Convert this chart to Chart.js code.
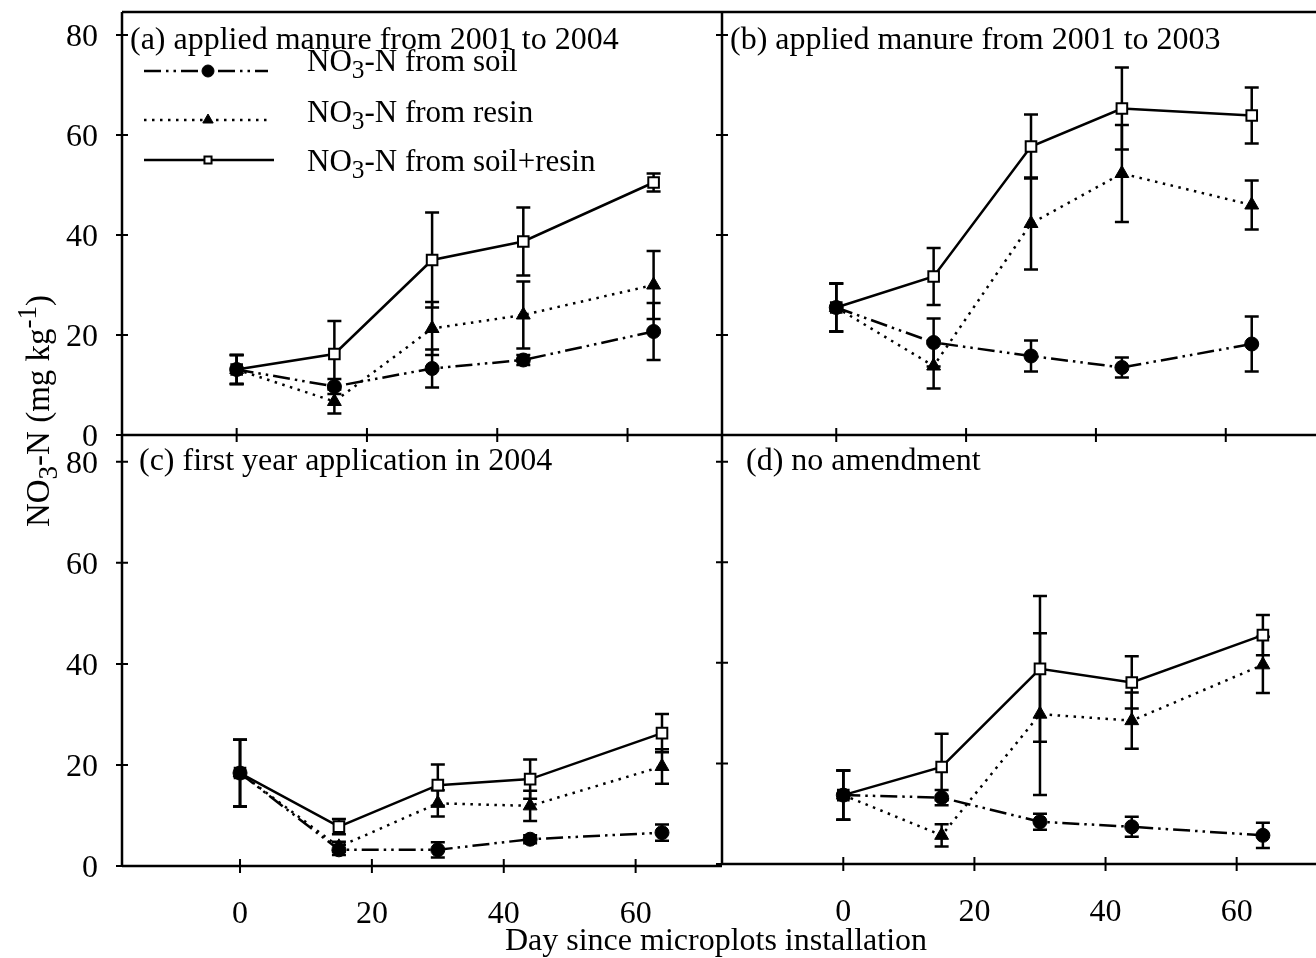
<!DOCTYPE html>
<html>
<head>
<meta charset="utf-8">
<script src="https://cdn.jsdelivr.net/npm/chart.js@4.4.1/dist/chart.umd.min.js"></script>
<style>
    body { margin: 0; background: #fff; }
    #wrap { position: relative; width: 1316px; height: 958px; overflow: hidden; background: #fff; }
    #wrap canvas { position: absolute; left: 0; top: 0; }
</style>
</head>
<body>
<div id="wrap">
    <canvas id="chartA" width="1316" height="958"></canvas>
    <canvas id="chartB" width="1316" height="958"></canvas>
    <canvas id="chartC" width="1316" height="958"></canvas>
    <canvas id="chartD" width="1316" height="958"></canvas>
</div>
<script>
// ---- data ----
const days = [0, 15, 30, 44, 64]
const xTickValues = [0, 20, 40, 60]
const yTickValues = [0, 20, 40, 60, 80]

// (a) applied manure from 2001 to 2004
const soilA = [13.1, 9.7, 13.3, 15.0, 20.7]
const soilErrA = [2.9, 1.5, 3.8, 1.0, 5.7]
const resinA = [13.1, 6.7, 21.3, 24.0, 30.0]
const resinErrA = [2.9, 2.4, 5.3, 6.7, 6.8]
const totalA = [13.1, 16.2, 35.0, 38.7, 50.5]
const totalErrA = [2.9, 6.6, 9.5, 6.8, 1.8]

// (b) applied manure from 2001 to 2003
const soilB = [25.5, 18.5, 15.8, 13.5, 18.2]
const soilErrB = [4.8, 4.8, 3.1, 2.0, 5.5]
const resinB = [25.5, 13.8, 42.3, 52.3, 46.0]
const resinErrB = [4.8, 4.5, 9.2, 9.7, 4.9]
const totalB = [25.5, 31.7, 57.7, 65.3, 63.9]
const totalErrB = [4.8, 5.7, 6.4, 8.2, 5.6]

// (c) first year application in 2004
const soilC = [18.4, 3.2, 3.2, 5.3, 6.6]
const soilErrC = [6.6, 1.0, 1.5, 0.8, 1.6]
const resinC = [18.4, 3.8, 12.4, 11.9, 19.7]
const resinErrC = [6.6, 1.0, 2.6, 3.0, 3.4]
const totalC = [18.4, 7.8, 16.0, 17.2, 26.3]
const totalErrC = [6.6, 1.5, 4.1, 3.9, 3.8]

// (d) no amendment
const soilD = [13.7, 13.2, 8.4, 7.4, 5.7]
const soilErrD = [4.9, 1.5, 1.6, 2.0, 2.5]
const resinD = [13.7, 5.7, 29.8, 28.5, 39.6]
const resinErrD = [4.9, 2.2, 16.1, 5.6, 5.6]
const totalD = [13.7, 19.3, 38.8, 36.1, 45.5]
const totalErrD = [4.9, 6.6, 14.5, 5.2, 4.0]

const W = 1316
const H = 958
const FONT = "'Liberation Serif', 'Times New Roman', serif"
const FONT_SIZE = 32
const LEGEND_SIZE = 31
const YTITLE_SIZE = 33
const INK = '#000'

Chart.defaults.font.family = FONT
Chart.defaults.color = INK

// draws text with sub / sup parts, returns end x
function drawRich(ctx, parts, x, y, size) {
    let cx = x
    parts.forEach(([text, kind]) => {
        const s = kind === 'n' ? size : size * 0.82
        const dy = kind === 'sub' ? size * 0.24 : kind === 'sup' ? -size * 0.4 : 0
        ctx.font = `${s}px ${FONT}`
        ctx.fillText(text, cx, y + dy)
        cx += ctx.measureText(text).width
    })
    return cx
}

function richWidth(ctx, parts, size) {
    let w = 0
    parts.forEach(([text, kind]) => {
        const s = kind === 'n' ? size : size * 0.82
        ctx.font = `${s}px ${FONT}`
        w += ctx.measureText(text).width
    })
    return w
}

function makeDatasets(soil, soilErr, resin, resinErr, total, totalErr) {
    const pts = arr => arr.map((v, i) => ({ x: days[i], y: v }))
    return [
        {
            label: 'NO3-N from soil',
            data: pts(soil),
            errors: soilErr,
            borderColor: INK,
            borderWidth: 2.5,
            borderDash: [17, 5, 2.5, 5, 2.5, 5],
            pointStyle: 'circle',
            pointRadius: 7,
            pointBackgroundColor: INK,
            pointBorderColor: INK,
            pointBorderWidth: 1,
            tension: 0
        },
        {
            label: 'NO3-N from resin',
            data: pts(resin),
            errors: resinErr,
            borderColor: INK,
            borderWidth: 2.5,
            borderDash: [2.5, 5.5],
            pointStyle: 'triangle',
            pointRadius: 8,
            pointBackgroundColor: INK,
            pointBorderColor: INK,
            pointBorderWidth: 1,
            tension: 0
        },
        {
            label: 'NO3-N from soil+resin',
            data: pts(total),
            errors: totalErr,
            borderColor: INK,
            borderWidth: 2.5,
            pointStyle: 'rect',
            pointRadius: 7.5,
            pointBackgroundColor: '#fff',
            pointBorderColor: INK,
            pointBorderWidth: 2,
            tension: 0
        }
    ]
}

// vertical error bars with caps
const errorBars = {
    id: 'errorBars',
    beforeDatasetsDraw(chart) {
        const { ctx, scales: { x, y } } = chart
        ctx.save()
        ctx.strokeStyle = INK
        ctx.lineWidth = 2.5
        chart.data.datasets.forEach(ds => {
            ds.data.forEach((p, i) => {
                const e = ds.errors[i]
                const px = x.getPixelForValue(p.x)
                const top = y.getPixelForValue(p.y + e)
                const bot = y.getPixelForValue(p.y - e)
                ctx.beginPath()
                ctx.moveTo(px, top)
                ctx.lineTo(px, bot)
                ctx.moveTo(px - 7, top)
                ctx.lineTo(px + 7, top)
                ctx.moveTo(px - 7, bot)
                ctx.lineTo(px + 7, bot)
                ctx.stroke()
            })
        })
        ctx.restore()
    }
}

// axis lines, crossing tick marks, panel title
const frame = {
    id: 'frame',
    afterDraw(chart, args, opts) {
        const { ctx, chartArea: a, scales: { x, y } } = chart
        ctx.save()
        ctx.strokeStyle = INK
        ctx.lineWidth = 2.5
        ctx.beginPath()
        ctx.moveTo(a.left, a.top)
        ctx.lineTo(a.left, a.bottom)
        ctx.moveTo(a.left, a.bottom)
        ctx.lineTo(a.right, a.bottom)
        if (opts.topLine) {
            ctx.moveTo(a.left, a.top)
            ctx.lineTo(a.right, a.top)
        }
        ctx.stroke()

        ctx.lineWidth = 2
        ctx.beginPath()
        y.ticks.forEach(t => {
            const py = y.getPixelForValue(t.value)
            ctx.moveTo(a.left - 6, py)
            ctx.lineTo(a.left + 6, py)
        })
        x.ticks.forEach(t => {
            const px = x.getPixelForValue(t.value)
            ctx.moveTo(px, a.bottom - 7)
            ctx.lineTo(px, a.bottom + 7)
        })
        ctx.stroke()

        ctx.fillStyle = INK
        ctx.textBaseline = 'alphabetic'
        ctx.textAlign = 'left'
        ctx.font = `${FONT_SIZE}px ${FONT}`
        ctx.fillText(opts.title, opts.titleX, opts.titleY)
        ctx.restore()
    }
}

// legend in panel (a)
const legendBox = {
    id: 'legendBox',
    afterDraw(chart, args, opts) {
        if (!opts.show) return
        const { ctx } = chart
        const rows = [[71, 71], [120, 122], [160, 171]]
        const names = [' from soil', ' from resin', ' from soil+resin']
        const ends = [268, 270, 274]
        chart.data.datasets.forEach((ds, i) => {
            const [ly, ty] = rows[i]
            ctx.save()
            ctx.strokeStyle = ds.borderColor
            ctx.lineWidth = ds.borderWidth
            ctx.setLineDash(ds.borderDash || [])
            ctx.beginPath()
            ctx.moveTo(144, ly)
            ctx.lineTo(ends[i], ly)
            ctx.stroke()
            ctx.setLineDash([])
            ctx.fillStyle = ds.pointBackgroundColor
            ctx.strokeStyle = ds.pointBorderColor
            ctx.lineWidth = ds.pointBorderWidth
            Chart.helpers.drawPoint(ctx, {
                pointStyle: ds.pointStyle,
                radius: ds.pointStyle === 'rect' ? 5 : 6,
                rotation: 0,
                borderWidth: ds.pointBorderWidth
            }, 208, ly)
            ctx.fillStyle = INK
            ctx.textBaseline = 'alphabetic'
            ctx.textAlign = 'left'
            drawRich(ctx, [['NO', 'n'], ['3', 'sub'], ['-N' + names[i], 'n']], 307, ty, LEGEND_SIZE)
            ctx.restore()
        })
    }
}

// shared axis titles
const figureTitles = {
    id: 'figureTitles',
    afterDraw(chart, args, opts) {
        if (!opts.show) return
        const { ctx } = chart
        ctx.save()
        ctx.fillStyle = INK
        ctx.textBaseline = 'alphabetic'
        ctx.textAlign = 'left'
        ctx.font = `${FONT_SIZE}px ${FONT}`
        const xt = 'Day since microplots installation'
        const xw = ctx.measureText(xt).width
        ctx.fillText(xt, 716 - xw / 2, 950)

        const yParts = [['NO', 'n'], ['3', 'sub'], ['-N (mg kg', 'n'], ['-1', 'sup'], [')', 'n']]
        const yw = richWidth(ctx, yParts, YTITLE_SIZE)
        ctx.translate(49, 411)
        ctx.rotate(-Math.PI / 2)
        drawRich(ctx, yParts, -yw / 2, 0, YTITLE_SIZE)
        ctx.restore()
    }
}

function noPadding(s) {
    s.paddingTop = 0
    s.paddingBottom = 0
    s.paddingLeft = 0
    s.paddingRight = 0
}

function buildChart(id, datasets, area, xMin, xMax, yMax, showX, showY, title, titleX, titleY, topLine, legend, titles) {
    const ctx = document.getElementById(id).getContext('2d')
    return new Chart(ctx, {
        type: 'line',
        data: { datasets: datasets },
        options: {
            responsive: false,
            animation: false,
            events: [],
            layout: {
                autoPadding: false,
                // axes take the space left and below, so padding only on the other sides
                padding: { left: 0, top: area[1], right: W - area[2], bottom: 0 }
            },
            plugins: {
                legend: { display: false },
                tooltip: { enabled: false },
                frame: { title: title, titleX: titleX, titleY: titleY, topLine: topLine },
                legendBox: { show: legend },
                figureTitles: { show: titles }
            },
            scales: {
                x: {
                    type: 'linear',
                    min: xMin,
                    max: xMax,
                    grid: { display: false },
                    border: { display: false },
                    afterBuildTicks: s => { s.ticks = xTickValues.map(v => ({ value: v })) },
                    afterFit: s => { s.height = H - area[3]; noPadding(s) },
                    ticks: {
                        display: showX,
                        padding: 21,
                        autoSkip: false,
                        maxRotation: 0,
                        color: INK,
                        font: { size: FONT_SIZE }
                    }
                },
                y: {
                    type: 'linear',
                    min: 0,
                    max: yMax,
                    grid: { display: false },
                    border: { display: false },
                    afterBuildTicks: s => { s.ticks = yTickValues.map(v => ({ value: v })) },
                    afterFit: s => { s.width = area[0]; noPadding(s) },
                    ticks: {
                        display: showY,
                        padding: 16,
                        labelOffset: 3,
                        autoSkip: false,
                        color: INK,
                        font: { size: FONT_SIZE }
                    }
                }
            }
        },
        plugins: [errorBars, frame, legendBox, figureTitles]
    })
}

buildChart('chartA', makeDatasets(soilA, soilErrA, resinA, resinErrA, totalA, totalErrA),
    [122, 12, 722, 435], -17.6, 74.5, 84.6, false, true,
    '(a) applied manure from 2001 to 2004', 130, 49, true, true, true)

buildChart('chartB', makeDatasets(soilB, soilErrB, resinB, resinErrB, totalB, totalErrB),
    [722, 12, 1316, 435], -17.6, 73.9, 84.6, false, false,
    '(b) applied manure from 2001 to 2003', 730, 49, true, false, false)

buildChart('chartC', makeDatasets(soilC, soilErrC, resinC, resinErrC, totalC, totalErrC),
    [122, 435, 722, 866], -17.9, 73.1, 85.3, true, true,
    '(c) first year application in 2004', 139, 470, false, false, false)

buildChart('chartD', makeDatasets(soilD, soilErrD, resinD, resinErrD, totalD, totalErrD),
    [722, 435, 1316, 864], -18.5, 72.1, 85.3, true, false,
    '(d) no amendment', 746, 470, false, false, false)
</script>
</body>
</html>
